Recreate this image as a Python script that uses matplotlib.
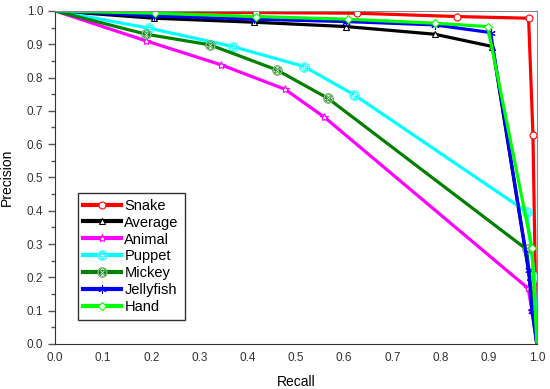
import numpy as np
import matplotlib.pyplot as plt
from matplotlib.ticker import MultipleLocator

plt.rcParams['font.family'] = ['Liberation Sans', 'DejaVu Sans']

# recall / precision pairs
snake_r = [0.0, 0.208, 0.417, 0.627, 0.835, 0.983, 0.992, 0.997, 1.0]
snake_p = [1.0, 0.997, 0.995, 0.993, 0.983, 0.978, 0.628, 0.20, 0.0]

avg_r = [0.0, 0.206, 0.413, 0.604, 0.788, 0.908, 0.985, 1.0]
avg_p = [1.0, 0.978, 0.966, 0.953, 0.930, 0.893, 0.20, 0.0]

animal_r = [0.0, 0.189, 0.345, 0.477, 0.559, 0.982, 0.99, 1.0]
animal_p = [1.0, 0.910, 0.838, 0.765, 0.681, 0.167, 0.10, 0.0]

puppet_r = [0.0, 0.196, 0.369, 0.517, 0.621, 0.979, 0.995, 1.0]
puppet_p = [1.0, 0.948, 0.893, 0.833, 0.748, 0.397, 0.20, 0.0]

mickey_r = [0.0, 0.189, 0.322, 0.460, 0.566, 0.979, 1.0]
mickey_p = [1.0, 0.930, 0.898, 0.823, 0.738, 0.284, 0.0]

jelly_r = [0.0, 0.206, 0.413, 0.604, 0.788, 0.904, 0.983, 0.99, 1.0]
jelly_p = [1.0, 0.985, 0.975, 0.968, 0.958, 0.935, 0.222, 0.10, 0.0]

hand_r = [0.0, 0.208, 0.417, 0.608, 0.788, 0.898, 0.99, 1.0]
hand_p = [1.0, 0.993, 0.983, 0.975, 0.963, 0.953, 0.288, 0.006]

series = [
    ('Snake', snake_r, snake_p, '#ff0000', 'o', 5),
    ('Average', avg_r, avg_p, '#000000', '^', 5),
    ('Animal', animal_r, animal_p, '#ff00ff', '*', 6),
    ('Puppet', puppet_r, puppet_p, '#00ffff', '$\\oplus$', 7),
    ('Mickey', mickey_r, mickey_p, '#008000', '$\\otimes$', 7),
    ('Jellyfish', jelly_r, jelly_p, '#0000ff', (6, 2, 0), 6),
    ('Hand', hand_r, hand_p, '#00ff00', 'D', 4.5),
]

fig = plt.figure(figsize=(5.5, 3.89), dpi=100)
ax = fig.add_axes([0.1, 0.1157, 0.876, 0.8563])

for name, r, p, col, mk, ms in series:
    mec = '#3a9a3a' if name == 'Mickey' else col
    mew = 0.5 if isinstance(mk, str) and mk.startswith('$') else 0.8
    ax.plot(r, p, color=col, lw=2.3, marker=mk, ms=ms, mfc='white',
            mec=mec, mew=mew, markevery=slice(1, -1), label=name)

ax.set_xlim(0, 1.0)
ax.set_ylim(0, 1.0)
ax.xaxis.set_major_locator(MultipleLocator(0.1))
ax.yaxis.set_major_locator(MultipleLocator(0.1))
ax.yaxis.set_minor_locator(MultipleLocator(0.05))
ax.xaxis.set_major_formatter(plt.FormatStrFormatter('%.1f'))
ax.yaxis.set_major_formatter(plt.FormatStrFormatter('%.1f'))
ax.tick_params(axis='y', which='major', direction='out', length=5, width=1,
               labelsize=8.5, labelcolor='#333333', color='#555555')
ax.tick_params(axis='y', which='minor', direction='out', length=3, width=1, color='#555555')
ax.tick_params(axis='x', which='major', length=0, pad=6, labelsize=8.5, labelcolor='#333333')

for s in ['top', 'right']:
    ax.spines[s].set_color('#888888')
for s in ['left', 'bottom']:
    ax.spines[s].set_color('#333333')

ax.set_xlabel('Recall', fontsize=10, labelpad=8)
ax.set_ylabel('Precision', fontsize=10, labelpad=9)

leg = ax.legend(loc='lower left', bbox_to_anchor=(0.047, 0.072), fontsize=10.5,
                fancybox=False, edgecolor='#333333', framealpha=1,
                handlelength=2.6, handletextpad=0.2, labelspacing=0.2,
                borderpad=0.4, borderaxespad=0)
for line in leg.get_lines():
    line.set_linewidth(3)
leg.get_frame().set_linewidth(1)

fig.savefig('out.png', dpi=100)
